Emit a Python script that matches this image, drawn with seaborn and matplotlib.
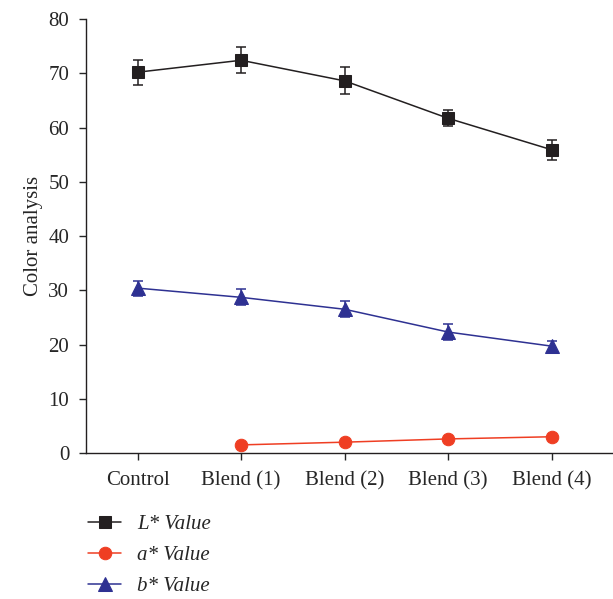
import matplotlib
matplotlib.use("Agg")
import matplotlib.pyplot as plt
import seaborn as sns
import numpy as np
import pandas as pd

# Data
samples = ["Control", "Blend (1)", "Blend (2)", "Blend (3)", "Blend (4)"]
l_value = [70.2, 72.4, 68.6, 61.7, 55.9]
l_err = [2.3, 2.4, 2.5, 1.5, 1.8]
a_value = [np.nan, 1.5, 2.0, 2.6, 3.0]
b_value = [30.4, 28.7, 26.5, 22.3, 19.7]
b_err = [1.4, 1.5, 1.5, 1.5, 1.0]

sns.set_style("ticks")
plt.rcParams["font.family"] = ["Liberation Serif", "DejaVu Serif"]

fig = plt.figure(figsize=(6.13, 5.99), dpi=100)
ax = fig.add_axes([0.140, 0.2437, 0.858, 0.7245])

pos = np.arange(len(samples))
series = [
    ("L* Value", l_value, l_err, "#231f20", "s", 9),
    ("a* Value", a_value, None, "#ef3e23", "o", 9),
    ("b* Value", b_value, b_err, "#2e3192", "^", 10),
]

for name, vals, errs, color, marker, ms in series:
    df = pd.DataFrame({"x": pos, "y": vals}).dropna()
    sns.lineplot(data=df, x="x", y="y", ax=ax, color=color, marker=marker,
                 markersize=ms, markeredgecolor=color, linewidth=1.1,
                 label=name, legend=False)
    if errs is not None:
        ax.errorbar(pos, vals, yerr=errs, fmt="none", ecolor=color,
                    elinewidth=1.1, capsize=3.5, capthick=1.1)

ax.set_xlim(-0.5, 4.58)
ax.set_ylim(0, 80)
ax.set_yticks(range(0, 81, 10))
ax.set_xticks(pos)
ax.set_xticklabels(samples)
ax.set_xlabel("")
ax.set_ylabel("Color analysis", fontsize=15, labelpad=4)
ax.tick_params(axis="y", labelsize=15, length=5, width=1, direction="out", pad=7)
ax.tick_params(axis="x", labelsize=15, length=5, width=1, direction="out", pad=8)
sns.despine(ax=ax)
for s in ["left", "bottom"]:
    ax.spines[s].set_linewidth(1)
    ax.spines[s].set_color("#231f20")

handles, labels = ax.get_legend_handles_labels()
leg = fig.legend(handles, labels, loc="upper left", bbox_to_anchor=(0.113, 0.172),
                 frameon=False, fontsize=15, handlelength=1.6, labelspacing=0.55,
                 handletextpad=0.75)
for t in leg.get_texts():
    t.set_fontstyle("italic")

fig.savefig("out.png", dpi=100)
